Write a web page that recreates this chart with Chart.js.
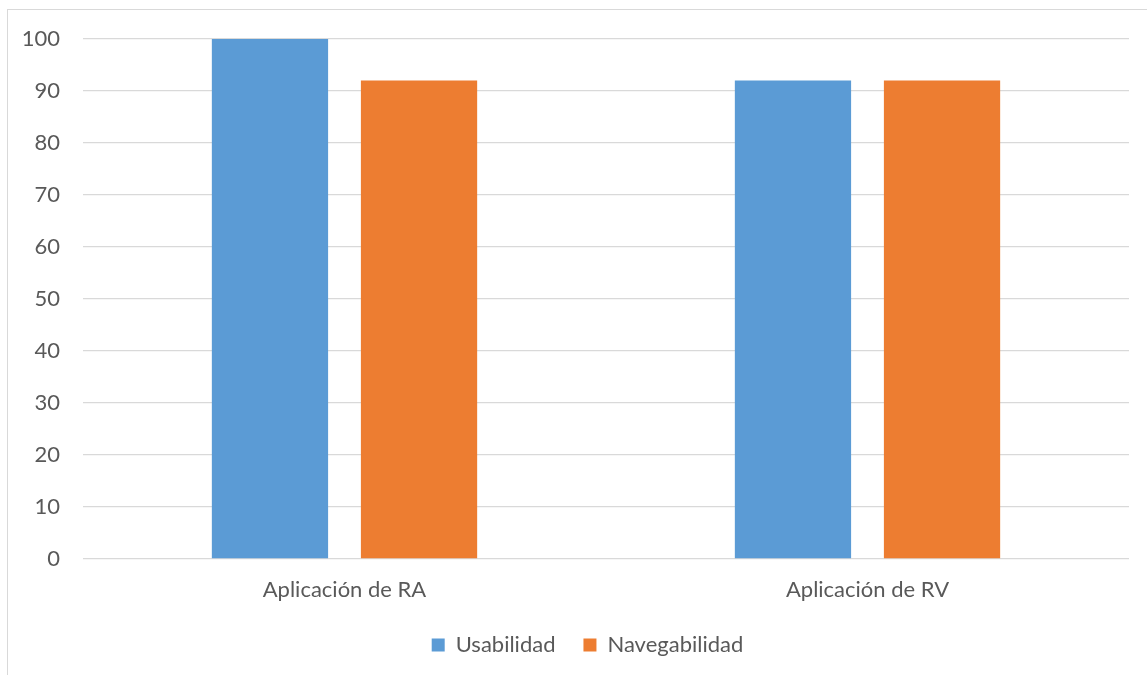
<!DOCTYPE html>
<html>
<head>
<meta charset="utf-8">
<script src="https://cdn.jsdelivr.net/npm/chart.js@4"></script>
<style>
  html, body { margin: 0; padding: 0; background: #fff; overflow: hidden; }
  #wrap { position: relative; width: 1147px; height: 675px; }
  #frame { position: absolute; left: 7px; top: 9px; width: 1300px; height: 800px;
           border: 1.5px solid #d9d9d9; box-sizing: border-box; }
  canvas { position: absolute; left: 0; top: 0; }
</style>
</head>
<body>
<div id="wrap">
  <div id="frame"></div>
  <canvas id="barChart" width="1147" height="675"></canvas>
</div>
<script>
const categories = ['Aplicación de RA', 'Aplicación de RV'];
const usabilidad = [100, 92];
const navegabilidad = [92, 92];
const yTicks = [0, 10, 20, 30, 40, 50, 60, 70, 80, 90, 100];

const textColor = '#595959';
const gridColor = '#d9d9d9';
const font = { family: 'Lato', size: 22 };

// legend sits a bit right of centre in the original
const legendShift = {
    id: 'legendShift',
    afterLayout(chart) {
        chart.legend.left += 23;
        chart.legend.right += 23;
    }
};

let ctx = document.getElementById('barChart').getContext('2d');
let chart = new Chart(ctx, {
    type: 'bar',
    data: {
        labels: categories,
        datasets: [{
            label: 'Usabilidad',
            data: usabilidad,
            backgroundColor: '#5b9bd5',
            categoryPercentage: 0.57,
            barPercentage: 0.78
        }, {
            label: 'Navegabilidad',
            data: navegabilidad,
            backgroundColor: '#ed7d31',
            categoryPercentage: 0.57,
            barPercentage: 0.78
        }]
    },
    options: {
        responsive: false,
        animation: false,
        layout: { padding: { left: 0, right: 18, top: 39, bottom: 9 } },
        plugins: {
            tooltip: { enabled: false },
            legend: {
                position: 'bottom',
                labels: {
                    color: textColor,
                    font: font,
                    boxWidth: 13,
                    boxHeight: 13,
                    padding: 28
                }
            }
        },
        scales: {
            x: {
                grid: { display: false },
                border: { display: false },
                ticks: { color: textColor, font: font, padding: 10 },
                afterFit: s => { s.height = 47; }
            },
            y: {
                min: 0,
                max: 100,
                afterBuildTicks: s => { s.ticks = yTicks.map(v => ({ value: v })); },
                grid: { color: gridColor, lineWidth: 1.3, drawTicks: false },
                border: { display: false },
                ticks: { color: textColor, font: font, padding: 23 },
                afterFit: s => { s.width = 83; }
            }
        }
    },
    plugins: [legendShift]
});
</script>
</body>
</html>
